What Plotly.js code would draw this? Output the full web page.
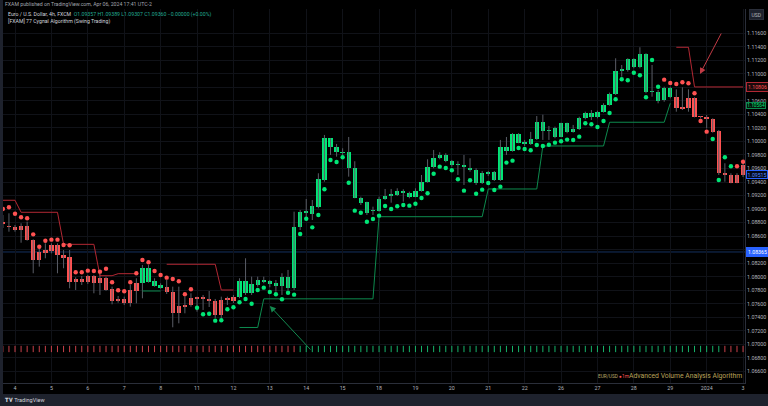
<!DOCTYPE html>
<html><head><meta charset="utf-8">
<script src="https://cdn.plot.ly/plotly-3.0.1.min.js"></script>
<style>html,body{margin:0;padding:0;background:#000;overflow:hidden}#chart{width:768px;height:406px}</style>
</head><body><div id="chart"></div>
<script>
// ---- data (EUR/USD 4h, FXCM) ----
const dayLabels = ['4','5','6','7','8','11','12','13','14','15','18','19','20','21','22','26','27','28','29','2024','3'];
const dayStartBar = [2,8,14,20,26,32,38,44,50,56,62,68,74,80,86,92,98,104,110,116,122];
const priceTicks = [1.066,1.068,1.070,1.072,1.074,1.076,1.078,1.080,1.082,1.084,1.086,1.088,1.090,1.092,1.094,1.096,1.098,1.100,1.102,1.104,1.106,1.108,1.110,1.112,1.114,1.116];
// scale labels hidden behind price tags in the reference
const hiddenTicks = [1.084, 1.108];

const open = [1.08808,1.08749,1.08729,1.08749,1.08749,1.08542,1.08360,1.08394,1.08468,1.08468,1.08320,1.08286,1.07961,1.07961,1.08010,1.08010,1.07981,1.07981,1.07818,1.07674,1.07674,1.07803,1.07902,
1.07902,1.07926,1.07867,1.07837,
1.07843,1.07769,1.07566,1.07581,1.07680,1.07680,1.07680,1.07674,1.07640,1.07655,1.07670,1.07694,
1.07694,1.07754,1.07754,1.07877,1.07926,1.07887,1.07867,1.07867,1.07837,1.07837,1.08739,1.08946,1.08931,1.09035,1.09430,1.10047,1.09923,1.09844,1.09840,1.09603,1.09168,1.09100,1.08971,1.08976,1.09153,1.09197,1.09208,1.09242,1.09242,1.09183,1.09272,1.09405,1.09618,1.09751,1.09804,1.09707,1.09652,1.09641,1.09603,1.09578,1.09390,1.09523,1.09544,1.09430,1.09914,1.09864,1.10108,1.09982,1.09963,1.10037,1.10292,1.10155,1.10195,1.10071,1.10269,1.10180,1.10180,1.10342,1.10426,1.10357,1.10440,1.10544,1.10702,1.11047,1.11057,1.11097,1.11097,1.11294,1.10732,1.10603,1.10613,1.10653,
1.10653,1.10490,1.10490,1.10638,1.10366,1.10357,1.10327,1.10155,1.09514,1.09504,1.09390,1.09504];
const close = [1.08779,1.08734,1.08690,1.08690,1.08542,1.08251,1.08251,1.08350,1.08379,1.08316,1.08280,1.07917,1.07917,1.07921,1.07917,1.07907,1.07907,1.07803,1.07640,1.07640,1.07615,1.07615,1.07793,
1.08133,1.08133,1.07936,1.07877,
1.07769,1.07458,1.07467,1.07551,1.07581,1.07670,1.07670,1.07645,1.07433,1.07433,1.07660,1.07645,
1.07941,1.07941,1.07887,1.07951,1.07951,1.07936,1.07902,1.08000,1.08000,1.08739,1.08961,1.08967,1.09041,1.09440,1.10047,1.09923,1.09844,1.09825,1.09603,1.09168,1.09094,1.08937,1.08976,1.09153,1.09193,1.09203,1.09272,1.09272,1.09183,1.09272,1.09405,1.09618,1.09751,1.09804,1.09707,1.09652,1.09645,1.09627,1.09578,1.09390,1.09529,1.09544,1.09430,1.09914,1.09864,1.10108,1.09982,1.09963,1.10037,1.10292,1.10160,1.10148,1.10071,1.10269,1.10145,1.10145,1.10342,1.10426,1.10357,1.10440,1.10544,1.10702,1.11047,1.11057,1.11215,1.11215,1.11294,1.10732,1.10724,1.10736,1.10786,1.10786,
1.10490,1.10483,1.10638,1.10366,1.10359,1.10337,1.10145,1.09529,1.09507,1.09390,1.09509,1.09652];
const high = [1.08912,1.08937,1.08764,1.08789,1.08813,1.08552,1.08443,1.08493,1.08493,1.08493,1.08394,1.08394,1.07991,1.08010,1.08025,1.08025,1.08050,1.08000,1.07852,1.07714,1.07704,1.07877,1.07976,
1.08173,1.08173,1.07976,1.07902,
1.07951,1.07852,1.07852,1.07704,1.07754,1.07704,1.07729,1.07788,1.07670,1.07704,1.07704,1.07729,
1.07976,1.08272,1.08000,1.08000,1.08000,1.07951,1.07951,1.08050,1.08099,1.08961,1.08986,1.09149,1.09134,1.09529,1.10096,1.10047,1.09963,1.09899,1.10066,1.09707,1.09183,1.09109,1.09035,1.09183,1.09297,1.09297,1.09307,1.09292,1.09257,1.09307,1.09504,1.09736,1.09874,1.09840,1.09825,1.09726,1.09707,1.09800,1.09751,1.09603,1.09563,1.09563,1.09563,1.10022,1.10066,1.10123,1.10123,1.10022,1.10141,1.10376,1.10396,1.10229,1.10219,1.10278,1.10278,1.10244,1.10366,1.10440,1.10465,1.10455,1.10564,1.10722,1.11230,1.11131,1.11230,1.11230,1.11393,1.11304,1.11131,1.10761,1.10810,1.10810,
1.10771,1.10801,1.10771,1.10653,1.10376,1.10391,1.10342,1.10170,1.09677,1.09529,1.09529,1.09726];
const low = [1.08720,1.08665,1.08665,1.08502,1.08532,1.08050,1.08148,1.08272,1.08345,1.08050,1.08124,1.07828,1.07803,1.07877,1.07892,1.07754,1.07729,1.07790,1.07591,1.07615,1.07581,1.07556,1.07606,
1.07680,1.07911,1.07852,1.07822,
1.07744,1.07251,1.07310,1.07458,1.07556,1.07482,1.07507,1.07551,1.07389,1.07389,1.07581,1.07610,
1.07680,1.07729,1.07729,1.07852,1.07902,1.07843,1.07778,1.07729,1.07803,1.07803,1.08690,1.08838,1.08838,1.09011,1.09405,1.09800,1.09775,1.09800,1.09479,1.09159,1.09060,1.08912,1.08912,1.08961,1.09134,1.09094,1.09193,1.09109,1.09159,1.09174,1.09257,1.09390,1.09603,1.09736,1.09692,1.09627,1.09504,1.09356,1.09553,1.09356,1.09371,1.09489,1.09415,1.09415,1.09800,1.09849,1.09973,1.09933,1.09948,1.10022,1.10022,1.10022,1.10047,1.10062,1.10121,1.10130,1.10170,1.10327,1.10318,1.10342,1.10426,1.10529,1.10687,1.10958,1.11032,1.11082,1.11082,1.10712,1.10662,1.10564,1.10588,1.10638,
1.10440,1.10465,1.10440,1.10357,1.10342,1.10195,1.10130,1.09504,1.09405,1.09381,1.09381,1.09474];
// bar colouring by the algorithm's trend: 1 = bullish (green), -1 = bearish (red)
const barTrend = [-1,-1,-1,-1,-1,-1,-1,-1,-1,-1,-1,-1,-1,-1,-1,-1,-1,-1,-1,-1,-1,-1,-1,
1,1,1,1,
-1,-1,-1,-1,-1,-1,-1,-1,-1,-1,-1,-1,
1,1,1,1,1,1,1,1,1,1,1,1,1,1,1,1,1,1,1,1,1,1,1,1,1,1,1,1,1,1,1,1,1,1,1,1,1,1,1,1,1,1,1,1,1,1,1,1,1,1,1,1,1,1,1,1,1,1,1,1,1,1,1,1,1,1,1,1,1,1,1,1,
-1,-1,-1,-1,-1,-1,-1,-1,-1,-1,-1,-1];
// signal dots
const dotPrice = [1.09001,1.09026,1.08931,1.08878,1.08863,1.08626,1.08443,1.08532,1.08547,1.08547,1.08468,1.08464,1.08065,1.08065,1.08089,1.08084,1.08074,1.08118,1.07917,1.07798,1.07784,1.07917,1.08050,
1.08247,1.08213,1.08084,1.08025,1.07985,1.07966,1.07932,1.07739,1.07813,
1.07541,1.07443,1.07452,1.07349,1.07355,1.07517,1.07547,1.07621,1.07670,1.07600,1.07803,1.07837,1.07774,1.07739,1.07665,1.07763,1.07734,1.08631,1.08857,1.08729,1.08912,1.09292,1.09726,1.09697,1.09766,1.09390,1.08976,1.08946,1.08813,1.08853,1.08902,1.09045,1.09001,1.09041,1.09060,1.09050,1.09079,1.09163,1.09233,1.09523,1.09627,1.09608,1.09574,1.09440,1.09272,1.09425,1.09227,1.09287,1.09385,1.09282,1.09331,1.09687,1.09716,1.09904,1.09889,1.09869,1.09948,1.09933,1.09952,1.09982,1.10003,1.10027,1.10022,1.10071,1.10269,1.10254,1.10214,1.10303,1.10421,1.10624,1.10919,1.10905,1.11017,1.10978,1.10653,
1.11205,1.10810,1.10914,1.10865,1.10850,1.10875,1.10860,1.10712,
1.10303,1.10145,1.10037,1.09430,
1.09766,1.09634,1.09634,1.09700];
const dotTrend = [-1,-1,-1,-1,-1,-1,-1,-1,-1,-1,-1,-1,-1,-1,-1,-1,-1,-1,-1,-1,-1,-1,-1,-1,-1,-1,-1,-1,-1,-1,-1,-1,
1,1,1,1,1,1,1,1,1,1,1,1,1,1,1,1,1,1,1,1,1,1,1,1,1,1,1,1,1,1,1,1,1,1,1,1,1,1,1,1,1,1,1,1,1,1,1,1,1,1,1,1,1,1,1,1,1,1,1,1,1,1,1,1,1,1,1,1,1,1,1,1,1,1,1,1,1,
-1,-1,-1,-1,-1,-1,-1,-1,
1,1,1,1,
-1,-1,-1,-1];
const N = null;
// trailing stops
const redStop = [1.09130,1.09130,1.09130,1.08952,1.08952,1.08952,1.08952,1.08952,1.08952,1.08952,1.08478,1.08478,1.08478,1.08478,1.08478,1.08478,1.08014,1.08014,1.08014,1.08044,1.08044,1.08044,1.08044,
N,N,N,N,
1.08183,1.08183,1.08183,1.08183,1.08183,1.08183,1.08183,1.08183,1.08183,1.07803,1.07803,1.07803,
N,N,N,N,N,N,N,N,N,N,N,N,N,N,N,N,N,N,N,N,N,N,N,N,N,N,N,N,N,N,N,N,N,N,N,N,N,N,N,N,N,N,N,N,N,N,N,N,N,N,N,N,N,N,N,N,N,N,N,N,N,N,N,N,N,N,N,N,N,N,N,N,
1.11393,1.11393,1.11393,1.10806,1.10806,1.10806,1.10806,1.10806,1.10806,1.10806,1.10806,1.10806];
const greenStop = [N,N,N,N,N,N,N,N,N,N,N,N,N,N,N,N,N,N,N,N,N,N,N,
1.07788,1.07788,1.07788,1.07788,
N,N,N,N,N,N,N,N,N,N,N,N,
1.07248,1.07248,1.07248,1.07248,1.07672,1.07672,1.07672,1.07672,1.07672,1.07672,1.07672,1.07672,1.07672,1.07672,1.07672,1.07672,1.07672,1.07672,1.07672,1.07672,1.07672,1.07672,1.07672,
1.08887,1.08887,1.08887,1.08887,1.08887,1.08887,1.08887,1.08887,1.08887,1.08887,1.08887,1.08887,1.08887,1.08887,1.08887,1.08887,1.08887,1.08887,
1.09297,1.09297,1.09297,1.09297,1.09297,1.09297,1.09297,1.09297,1.09297,
1.09933,1.09933,1.09933,1.09933,1.09933,1.09933,1.09933,1.09933,1.09933,1.09933,1.09933,
1.10284,1.10284,1.10284,1.10284,1.10284,1.10284,1.10284,1.10284,1.10284,1.10284,1.10564,
N,N,N,N,N,N,N,N,N,N,N,N];
// volume-analysis strip (one tick per bar at a fixed level)
const volLevel = 1.0693;
const volTrend = [-1,-1,-1,-1,-1,-1,-1,-1,-1,-1,-1,-1,-1,-1,-1,-1,-1,-1,-1,-1,-1,-1,-1,-1,-1,-1,-1,-1,-1,-1,-1,-1,-1,-1,-1,-1,-1,-1,-1,-1,-1,-1,-1,-1,-1,-1,-1,-1,-1,
1,1,1,1,1,1,1,1,1,1,1,1,1,1,1,1,1,1,1,1,1,1,1,1,1,1,1,1,1,1,1,1,1,1,1,1,1,1,1,1,1,1,1,1,1,1,1,1,1,1,1,1,1,1,1,1,1,1,1,1,1,1,1,1,1,1,1,1,1,1,
-1,-1,-1,-1];
const priceLineBlue = 1.08365;
const lastCloseLabel = 1.09515;

// ---- styling ----
const GREEN = '#00e676', RED = '#ff5252';
const idx = open.map((_, i) => i);
const col = t => t > 0 ? GREEN : RED;

const wx = [], wy = [];
idx.forEach(i => { wx.push(i, i, null); wy.push(low[i], high[i], null); });
const base = idx.map(i => Math.min(open[i], close[i]));
const hgt = idx.map(i => Math.max(Math.abs(close[i] - open[i]), 0.00022));

const traces = [
  {type:'scatter', mode:'lines', x:wx, y:wy, line:{color:'#5a5d66', width:1}, hoverinfo:'skip', connectgaps:false},
  {type:'bar', x:idx, y:hgt, base:base, width:0.72, marker:{color:barTrend.map(col), line:{width:0}}, hoverinfo:'skip'},
  {type:'scatter', mode:'lines', x:idx, y:redStop, line:{color:'#b22833', width:1}, connectgaps:false, hoverinfo:'skip'},
  {type:'scatter', mode:'lines', x:idx, y:greenStop, line:{color:'#0d8a4e', width:1}, connectgaps:false, hoverinfo:'skip'},
  {type:'scatter', mode:'markers', x:idx, y:dotPrice, marker:{size:4.4, color:dotTrend.map(col)}, hoverinfo:'skip'},
  {type:'scatter', mode:'markers', x:idx, y:idx.map(() => volLevel), marker:{symbol:'line-ns', size:4.5, line:{width:1, color:volTrend.map(t => t > 0 ? '#16b36a' : '#c9404a')}}, hoverinfo:'skip'}
];

const PX = (px) => (px - 3) / 742;   // pixel -> paper x
const PY = (py) => (383 - py) / 374; // pixel -> paper y
const axisFont = {family:'Roboto, "Noto Sans", sans-serif', size:5.3, color:'#b2b5be'};
const lastRed = redStop[redStop.length - 1];
const lastGreen = greenStop.filter(v => v !== null).slice(-1)[0];
const tagFmt = v => v.toFixed(5);
const tagFont = (c, s) => ({family:'Roboto, sans-serif', size:s || 5.2, color:c});

const layout = {
  width:768, height:406,
  margin:{l:3, r:23, t:9, b:23, pad:0},
  paper_bgcolor:'#000000', plot_bgcolor:'#000000',
  showlegend:false, barmode:'overlay', bargap:0,
  font:axisFont,
  xaxis:{range:[0.02,122.32], tickvals:dayStartBar, ticktext:dayLabels, showgrid:true, gridcolor:'#101218', gridwidth:1,
         zeroline:false, showline:true, linecolor:'#2a2e39', linewidth:1, ticks:'', tickfont:axisFont, fixedrange:true},
  yaxis:{side:'right', range:[1.06427,1.11959], tickvals:priceTicks,
         ticktext:priceTicks.map(v => hiddenTicks.some(h => Math.abs(h - v) < 1e-9) ? '' : v.toFixed(5)),
         showgrid:true, gridcolor:'#101218', gridwidth:1, zeroline:false, showline:true, linecolor:'#2a2e39', linewidth:1,
         ticks:'', tickfont:axisFont, fixedrange:true},
  shapes:[
    {type:'line', xref:'paper', yref:'y', x0:0, x1:1, y0:priceLineBlue, y1:priceLineBlue, line:{color:'#14305e', width:1}, layer:'below'},
    {type:'rect', xref:'paper', yref:'paper', x0:PX(0), x1:PX(3), y0:PY(406), y1:PY(0), fillcolor:'#1e222d', line:{width:0}},
    {type:'rect', xref:'paper', yref:'paper', x0:PX(0), x1:PX(768), y0:PY(406), y1:PY(394), fillcolor:'#1e222d', line:{width:0}}
  ],
  annotations:[
    {xref:'paper', yref:'paper', x:PX(3), y:PY(4), xanchor:'left', yanchor:'middle', showarrow:false,
     text:'FXAM published on TradingView.com, Apr 06, 2024 17:41 UTC-2', font:{family:'Roboto, sans-serif', size:5.2, color:'#a3a6af'}},
    {xref:'paper', yref:'paper', x:PX(6), y:PY(14), xanchor:'left', yanchor:'middle', showarrow:false,
     text:'Euro / U.S. Dollar, 4h, FXCM  <span style="color:#22ab94">O1.09357 H1.09389 L1.09307 C1.09360 −0.00000 (+0.00%)</span>', font:{family:'Roboto, sans-serif', size:5.2, color:'#d1d4dc'}},
    {xref:'paper', yref:'paper', x:PX(6), y:PY(21), xanchor:'left', yanchor:'middle', showarrow:false,
     text:'[FXAM] 77 Cygnal Algorithm (Swing Trading)', font:{family:'Roboto, sans-serif', size:5.2, color:'#d1d4dc'}},
    {xref:'paper', yref:'paper', x:PX(756), y:PY(15), xanchor:'center', yanchor:'middle', showarrow:false,
     text:'USD', font:{family:'Roboto, sans-serif', size:5, color:'#b2b5be'}, bgcolor:'#1e222d', bordercolor:'#2a2e39', borderwidth:1, borderpad:1.5},
    // price tags on the scale
    {xref:'paper', yref:'y', x:1, y:lastRed, xanchor:'left', yanchor:'middle', showarrow:false, xshift:1,
     text:tagFmt(lastRed), font:tagFont('#ff5252'), bgcolor:'#1a0a0c', bordercolor:'#b22833', borderwidth:1, borderpad:1},
    {xref:'paper', yref:'y', x:1, y:lastGreen, xanchor:'left', yanchor:'middle', showarrow:false, xshift:1, yshift:-2.5,
     text:tagFmt(lastGreen), font:tagFont('#00e676', 4.8), bgcolor:'#06140c', bordercolor:'#0d8a4e', borderwidth:1, borderpad:0.2},
    {xref:'paper', yref:'y', x:1, y:lastCloseLabel, xanchor:'left', yanchor:'middle', showarrow:false, xshift:1,
     text:tagFmt(lastCloseLabel), font:tagFont('#5b8cff'), bgcolor:'#050a18', bordercolor:'#2962ff', borderwidth:1, borderpad:0.6},
    {xref:'paper', yref:'y', x:1, y:priceLineBlue, xanchor:'left', yanchor:'middle', showarrow:false, xshift:1,
     text:tagFmt(priceLineBlue), font:tagFont('#ffffff'), bgcolor:'#2962ff', bordercolor:'#2962ff', borderwidth:1, borderpad:1},
    // drawn arrows
    {xref:'x', yref:'y', x:114.9, y:1.10998, ax:22, ay:-42, showarrow:true, arrowhead:2, arrowsize:1.2, arrowwidth:1, arrowcolor:'#c23b45', text:''},
    {xref:'x', yref:'y', x:44.0, y:1.07566, ax:42, ay:45, showarrow:true, arrowhead:2, arrowsize:1.2, arrowwidth:1, arrowcolor:'#148a50', text:''},
    // bottom pane caption
    {xref:'paper', yref:'paper', x:PX(596), y:PY(376), xanchor:'left', yanchor:'middle', showarrow:false,
     text:'EUR/USD <span style="color:#ff5252">●1m</span>', font:{family:'Roboto, sans-serif', size:4.8, color:'#b9a86a'}},
    {xref:'paper', yref:'paper', x:PX(627), y:PY(375.5), xanchor:'left', yanchor:'middle', showarrow:false,
     text:'Advanced Volume Analysis Algorithm', font:{family:'Roboto, sans-serif', size:6.8, color:'#b9a25a'}},
    {xref:'paper', yref:'paper', x:PX(3), y:PY(400), xanchor:'left', yanchor:'middle', showarrow:false,
     text:'<b>𝐓𝐕</b> TradingView', font:{family:'Roboto, sans-serif', size:5.5, color:'#d1d4dc'}}
  ]
};

Plotly.newPlot('chart', traces, layout, {staticPlot:true, displayModeBar:false});
</script></body></html>
